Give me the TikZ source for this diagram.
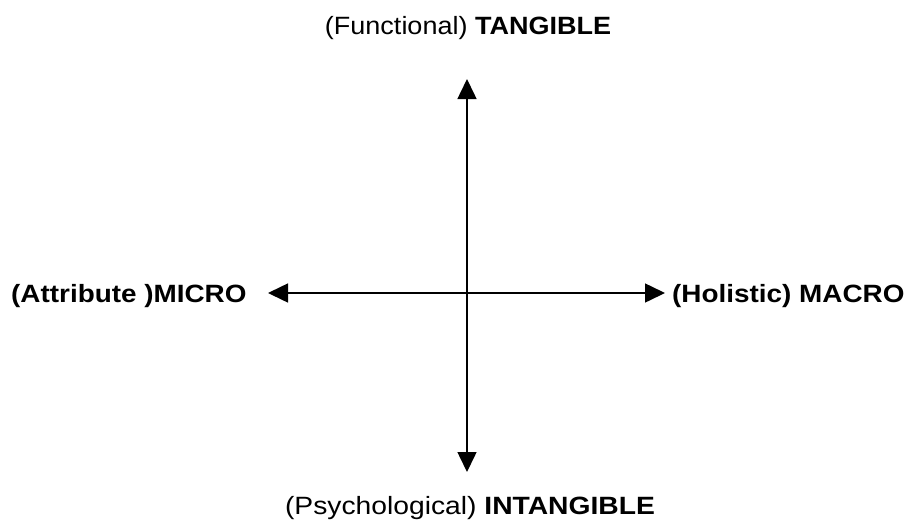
\documentclass[tikz,border=0pt]{standalone}
\usepackage{fontspec}
\usepackage{graphicx}
\setmainfont{Liberation Sans}
\usetikzlibrary{arrows.meta}
\newcommand{\wide}[2][1.08]{\scalebox{#1}[1]{#2}}
\begin{document}
\begin{tikzpicture}[x=1pt,y=-1pt,
  axis/.style={line width=1.5pt,{Triangle[length=20pt,width=19pt]}-{Triangle[length=20pt,width=19pt]}},
  lbl/.style={inner sep=0pt,font=\fontsize{25}{28}\selectfont}]
\useasboundingbox (0,0) rectangle (912,528);
\coordinate (top) at (467,79);
\coordinate (bot) at (467,472);
\coordinate (left) at (268,293);
\coordinate (right) at (665,293);
\draw[axis] (bot) -- (top);
\draw[axis] (left) -- (right);
\node[lbl,anchor=base] (t) at (468,34) {\wide{(Functional) \textbf{TANGIBLE}}};
\node[lbl,anchor=base west] (l) at (11,302) {\wide[1.115]{\textbf{(Attribute )MICRO}}};
\node[lbl,anchor=base west] (r) at (672,302) {\wide[1.115]{\textbf{(Holistic) MACRO}}};
\node[lbl,anchor=base] (b) at (470,514) {\wide[1.13]{(Psychological) \textbf{INTANGIBLE}}};
\end{tikzpicture}
\end{document}
